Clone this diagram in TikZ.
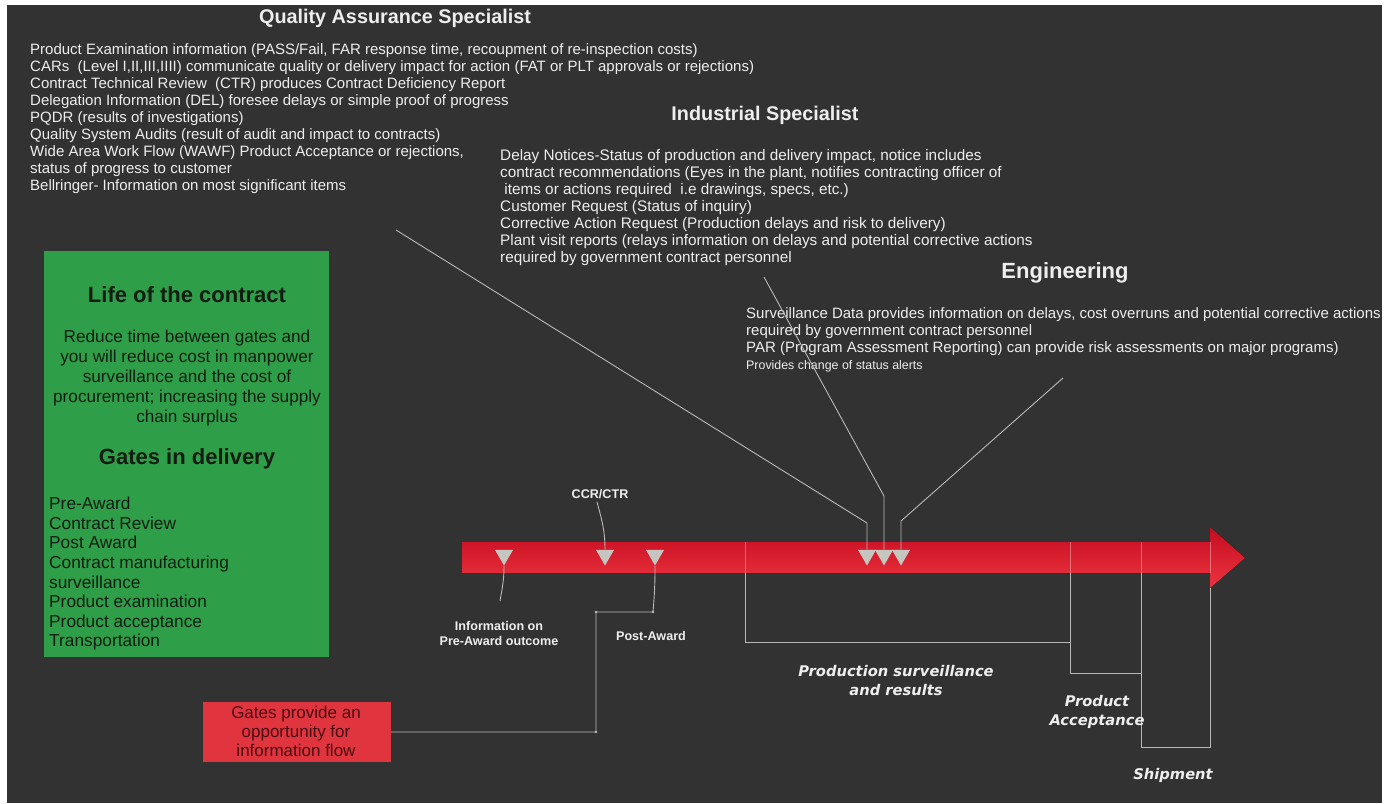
\documentclass[tikz,border=0pt]{standalone}
\usepackage{fontspec}
\setmainfont{Liberation Sans}
\newfontfamily\gothic{DejaVu Sans}
\usetikzlibrary{shapes.geometric}
\definecolor{bgdark}{RGB}{50,50,50}
\definecolor{txtwhite}{RGB}{238,238,238}
\definecolor{wiregray}{RGB}{185,185,185}
\definecolor{gatefill}{RGB}{198,198,192}
\definecolor{contractgreen}{RGB}{46,158,72}
\definecolor{boxred}{RGB}{224,52,62}
\definecolor{darkink}{RGB}{18,28,18}
\definecolor{redink}{RGB}{72,12,18}
\definecolor{arrowtop}{RGB}{196,12,32}
\definecolor{arrowbot}{RGB}{236,52,64}
\begin{document}
\begin{tikzpicture}[x=1pt,y=-1pt,
  txt/.style={text=txtwhite,inner sep=0pt,align=left,font=\fontsize{15}{17}\selectfont},
  head/.style={text=txtwhite,inner sep=0pt,font=\bfseries\fontsize{19.8}{22}\selectfont},
  gate/.style={regular polygon,regular polygon sides=3,shape border rotate=180,fill=gatefill,minimum size=21pt,inner sep=0pt},
  wire/.style={draw=wiregray,line width=0.9pt},
  tag/.style={text=txtwhite,inner sep=0pt,align=center,font=\bfseries\fontsize{12.6}{15}\selectfont},
  stage/.style={text=txtwhite,inner sep=0pt,align=center,font=\gothic\bfseries\itshape\fontsize{14.7}{19}\selectfont},
  ink/.style={text=darkink,inner sep=0pt,align=center}]
\useasboundingbox (0,0) rectangle (1389,803);
\fill[white] (0,0) rectangle (1389,803);
\fill[bgdark] (7,5) rectangle (1382,803);

% specialists
\node[head] (qahead) at (395,18) {Quality Assurance Specialist};
\node[txt,anchor=north west] (qalist) at (30,43) {Product Examination information (PASS/Fail, FAR response time, recoupment of re-inspection costs)\\
CARs\ \ (Level I,II,III,IIII) communicate quality or delivery impact for action (FAT or PLT approvals or rejections)\\
Contract Technical Review\ \ (CTR) produces Contract Deficiency Report\\
Delegation Information (DEL) foresee delays or simple proof of progress\\
PQDR (results of investigations)\\
Quality System Audits (result of audit and impact to contracts)\\
Wide Area Work Flow (WAWF) Product Acceptance or rejections,\\
status of progress to customer\\
Bellringer- Information on most significant items};
\node[head] (indhead) at (765,115) {Industrial Specialist};
\node[txt,anchor=north west,font=\fontsize{15.3}{17}\selectfont] (indlist) at (500,149) {Delay Notices-Status of production and delivery impact, notice includes\\
contract recommendations (Eyes in the plant, notifies contracting officer of\\
\ items or actions required\ \ i.e drawings, specs, etc.)\\
Customer Request (Status of inquiry)\\
Corrective Action Request (Production delays and risk to delivery)\\
Plant visit reports (relays information on delays and potential corrective actions\\
required by government contract personnel};
\node[head,font=\bfseries\fontsize{22}{26}\selectfont] (enghead) at (1065,273) {Engineering};
\node[txt,anchor=north west] (englist) at (746,307) {Surveillance Data provides information on delays, cost overruns and potential corrective actions\\
required by government contract personnel\\
PAR (Program Assessment Reporting) can provide risk assessments on major programs)\\
{\fontsize{12.4}{14}\selectfont Provides change of status alerts}};

% green panel
\node[fill=contractgreen,minimum width=285pt,minimum height=406pt,anchor=north west,inner sep=0pt] (contract) at (44,251) {};
\node[ink,font=\bfseries\fontsize{22}{26}\selectfont] (lifetitle) at (187,295) {Life of the contract};
\node[ink,font=\fontsize{17.2}{19.8}\selectfont] (lifetext) at (187,378) {Reduce time between gates and\\you will reduce cost in manpower\\surveillance and the cost of\\procurement; increasing the supply\\chain surplus};
\node[ink,font=\bfseries\fontsize{22}{26}\selectfont] (gatestitle) at (187,459) {Gates in delivery};
\node[ink,align=left,anchor=north west,font=\fontsize{17.3}{19.6}\selectfont] (gatelist) at (49,497) {Pre-Award\\Contract Review\\Post Award\\Contract manufacturing\\surveillance\\Product examination\\Product acceptance\\Transportation};
\node[fill=boxred,minimum width=188pt,minimum height=60pt,inner sep=0pt] (gates) at (297,732) {};
\node[ink,text=redink,font=\fontsize{17}{19}\selectfont] (gatestext) at (296,731) {Gates provide an\\opportunity for\\information flow};

% timeline arrow
\fill[top color=arrowtop,bottom color=arrowbot] (462,542) -- (1210,542) -- (1210,527) -- (1245,558) -- (1210,588) -- (1210,573) -- (462,573) -- cycle;
\foreach \xx in {745,1070,1141,1210}
  \draw[white,opacity=0.35,line width=0.8pt] (\xx,542) -- (\xx,573);

% gates on the arrow
\node[gate] (t1) at (504,555) {};
\node[gate] (t2) at (605,555) {};
\node[gate] (t3) at (655,555) {};
\node[gate] (t4) at (867,555) {};
\node[gate] (t5) at (884,555) {};
\node[gate] (t6) at (901,555) {};

% connectors
\coordinate (qatail) at (396,230);
\coordinate (indtail) at (764,277);
\coordinate (engtail) at (1063,378);
\draw[wire] (qatail) -- (867,523) -- (t4.north);
\draw[wire] (indtail) -- (884,496) -- (t5.north);
\draw[wire] (engtail) -- (901,521) -- (t6.north);
\node[tag] (ccr) at (600,494) {CCR/CTR};
\draw[wire] (ccr.south) ++(-3,3) to[out=-75,in=90] (t2.north);
\node[tag] (preaward) at (499,633) {Information on\\Pre-Award outcome};
\draw[wire] (t1.south) to[out=-90,in=80] (500,601);
\node[tag] (postaward) at (651,636) {Post-Award};
\draw[wire] (t3.south) to[out=-90,in=85] (653,612) -- (596,612) |- (gates.east);
\foreach \pp in {(653,612),(596,612),(596,732)}
  \fill[wiregray] \pp circle (1.4);

% stages below the arrow
\draw[wire] (745,573) -- (745,642) -- (1070,642) -- (1070,573);
\draw[wire] (1070,642) -- (1070,673) -- (1141,673) -- (1141,573);
\draw[wire] (1141,673) -- (1141,747) -- (1210,747) -- (1210,588);
\node[stage] (production) at (896,681) {Production surveillance\\and results};
\node[stage] (acceptance) at (1097,712) {Product\\Acceptance};
\node[stage] (shipment) at (1173,775) {Shipment};
\end{tikzpicture}
\end{document}
